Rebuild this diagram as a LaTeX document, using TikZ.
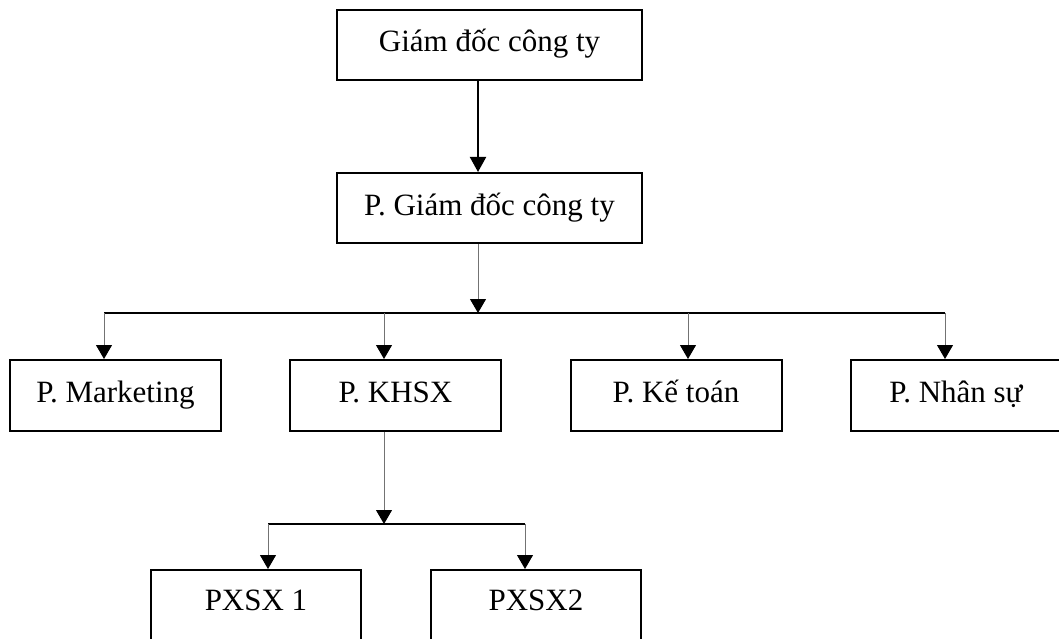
\documentclass[tikz,border=0pt]{standalone}
\usepackage{fontspec}
\setmainfont{Liberation Serif}
\usetikzlibrary{arrows.meta}
\begin{document}
\begin{tikzpicture}[x=1pt,y=-1pt,
  box/.style={draw, line width=2pt, inner sep=0pt, text height=21pt, text depth=7pt,
    font=\fontsize{31}{36}\selectfont},
  lbl/.style={inner sep=0pt, font=\fontsize{31}{36}\selectfont},
  mainarrow/.style={draw=black, line width=2pt, -{Triangle[width=16pt,length=15pt]}},
  conn/.style={draw=black!55, line width=1pt, -{Triangle[width=16pt,length=14pt,black]}},
  busline/.style={draw=black, line width=2pt}]
\useasboundingbox (0,0) rectangle (1059,639);
\clip (0,0) rectangle (1059,639);
% boxes
\node[box, minimum width=305pt, minimum height=70pt] (top) at (489.5,45) {Giám đốc công ty};
\node[box, minimum width=305pt, minimum height=70pt] (pgd) at (489.5,208) {P. Giám đốc công ty};
\node[box, minimum width=211pt, minimum height=71pt] (mkt) at (115.5,395.5) {P. Marketing};
\node[box, minimum width=211pt, minimum height=71pt] (khsx) at (395.5,395.5) {P. KHSX};
\node[box, minimum width=211pt, minimum height=71pt] (kt) at (676,395.5) {P. Kế toán};
\node[box, minimum width=211pt, minimum height=71pt] (ns) at (956,395.5) {P. Nhân sự};
\node[box, minimum width=210pt, minimum height=120pt] (px1) at (256,630) {};
\node[box, minimum width=210pt, minimum height=120pt] (px2) at (536,630) {};
\node[lbl] (px1t) at (256,600) {PXSX 1};
\node[lbl] (px2t) at (536,600) {PXSX2};
% coordinates
\coordinate (j0) at (478,0);
\coordinate (bus1) at (478,313);
\coordinate (bl) at (104,313);
\coordinate (br) at (945,313);
\coordinate (dk) at (384,313);
\coordinate (dkt) at (688,313);
\coordinate (bus2) at (384,524);
\coordinate (b2l) at (268,524);
\coordinate (b2r) at (525,524);
% connectors
\draw[mainarrow] (top.south -| j0) -- (pgd.north -| j0);
\draw[conn] (pgd.south -| bus1) -- (bus1);
\draw[busline] (bl) -- (br);
\draw[conn] (bl) -- (bl |- mkt.north);
\draw[conn] (dk) -- (dk |- khsx.north);
\draw[conn] (dkt) -- (dkt |- kt.north);
\draw[conn] (br) -- (br |- ns.north);
\draw[conn] (khsx.south -| bus2) -- (bus2);
\draw[busline] (b2l) -- (b2r);
\draw[conn] (b2l) -- (b2l |- px1.north);
\draw[conn] (b2r) -- (b2r |- px2.north);
\end{tikzpicture}
\end{document}
